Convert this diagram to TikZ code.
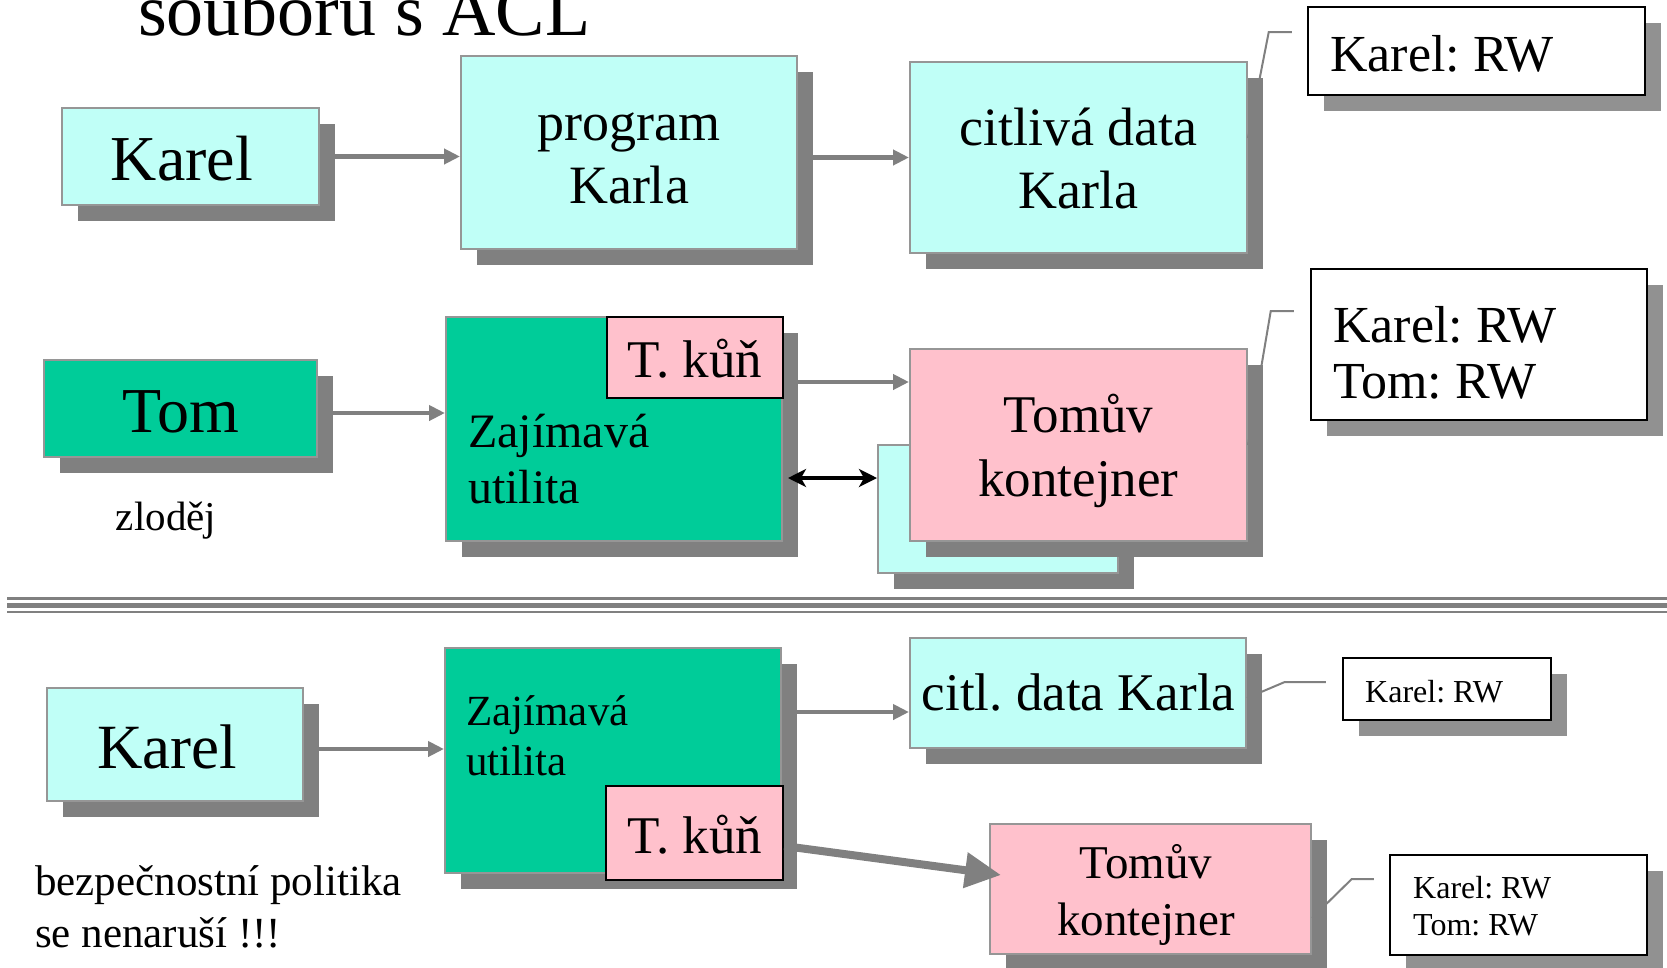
\documentclass[tikz,border=0pt]{standalone}
\usepackage{fontspec}
\setmainfont{Liberation Serif}
\usetikzlibrary{arrows.meta,shadows}
\definecolor{cyanc}{RGB}{192,255,247}
\definecolor{greenc}{RGB}{0,204,153}
\definecolor{pinkc}{RGB}{255,193,204}
\definecolor{shgray}{RGB}{128,128,128}
\definecolor{shlight}{RGB}{145,145,145}
\definecolor{bordg}{RGB}{150,150,150}
\definecolor{arrg}{RGB}{128,128,128}
\newcommand\myfs[2]{\fontsize{#1}{#2}\selectfont}
\frenchspacing
\tikzset{
 shbox/.style={inner sep=0pt, line width=2pt, drop shadow={shadow xshift=16pt, shadow yshift=-16pt, fill=shgray, opacity=1}},
 cyanbox/.style={shbox, fill=cyanc, draw=bordg},
 greenbox/.style={shbox, fill=greenc, draw=bordg},
 pinkbox/.style={shbox, fill=pinkc, draw=bordg},
 horsebox/.style={inner sep=0pt, fill=pinkc, draw=black, line width=2.5pt},
 aclbox/.style={inner sep=0pt, fill=white, draw=black, line width=2.5pt, drop shadow={shadow xshift=16pt, shadow yshift=-16pt, fill=shlight, opacity=1}},
 txt/.style={inner sep=0pt, text=black},
 garrow/.style={draw=arrg, line width=4.5pt, -{Triangle[length=16pt,width=15pt]}},
 barrow/.style={draw=black, line width=4pt, {Stealth[length=18pt,width=18pt,inset=5pt]}-{Stealth[length=18pt,width=18pt,inset=5pt]}},
 thickarrow/.style={draw=arrg, line width=8pt, -{Triangle[length=36pt,width=34pt]}},
 callout/.style={draw=arrg, line width=2pt},
 sepline/.style={draw=shgray},
}
\begin{document}
\frenchspacing
\begin{tikzpicture}[x=1pt,y=-1pt]
\useasboundingbox (0,0) rectangle (1667,967);
\node[txt, anchor=base west, font=\myfs{74}{85}] (title) at (138,35) {souboru s ACL};

% separator
\draw[sepline, line width=3pt] (7,598.5) -- (1667,598.5);
\draw[sepline, line width=5pt] (7,605.5) -- (1667,605.5);
\draw[sepline, line width=2.5pt] (7,612) -- (1667,612);

% row 1
\node[cyanbox, minimum width=257pt, minimum height=97pt] (karel1) at (190.5,156.5) {};
\node[txt, anchor=base, font=\myfs{64}{74}] (karel1t) at (182,180) {Karel};
\node[cyanbox, minimum width=336pt, minimum height=193pt] (prog) at (629,152.5) {};
\node[txt, align=center, font=\myfs{54}{63}] (progt) at (629,158.9) {\strut program\\\strut Karla};
\node[cyanbox, minimum width=337pt, minimum height=191pt] (citl1) at (1078.5,157.5) {};
\node[txt, align=center, font=\myfs{54}{63}] (citl1t) at (1078.5,163.9) {\strut citlivá data\\\strut Karla};
\node[aclbox, minimum width=337pt, minimum height=88pt] (acl1) at (1476.5,51) {};
\node[txt, anchor=base west, font=\myfs{52}{60}] (acl1t) at (1330,71) {Karel: RW};

% row 2
\node[greenbox, minimum width=273pt, minimum height=97pt] (tom) at (180.5,408.5) {};
\node[txt, anchor=base, font=\myfs{64}{74}] (tomt) at (181,432) {Tom};
\node[txt, anchor=base, font=\myfs{41}{48}] (zlodej) at (166,530) {zloděj};
\node[greenbox, minimum width=336pt, minimum height=224pt] (zaj1) at (614,429) {};
\node[txt, anchor=west, align=left, font=\myfs{48}{56}] (zaj1t) at (468,463.8) {\strut Zajímavá\\\strut utilita};
\node[horsebox, minimum width=176pt, minimum height=81pt] (kun1) at (695,357.5) {};
\node[txt, anchor=base, font=\myfs{53}{62}] (kun1t) at (695,377) {T. kůň};
\node[cyanbox, minimum width=240pt, minimum height=128pt] (cyanb) at (998,509) {};
\node[pinkbox, minimum width=337pt, minimum height=192pt] (tom2) at (1078.5,445) {};
\node[txt, align=center, font=\myfs{53}{64}] (tom2t) at (1078.5,451.2) {\strut Tomův\\\strut kontejner};
\node[aclbox, minimum width=336pt, minimum height=151pt] (acl2) at (1479,344.5) {};
\node[txt, anchor=west, align=left, font=\myfs{52}{56}] (acl2t) at (1333,358.8) {\strut Karel: RW\\\strut Tom: RW};

% row 3
\node[cyanbox, minimum width=256pt, minimum height=113pt] (karel3) at (175,744.5) {};
\node[txt, anchor=base, font=\myfs{63}{72}] (karel3t) at (167,768) {Karel};
\node[txt, anchor=west, align=left, font=\myfs{43}{52}] (bez) at (35,910.6) {\strut bezpečnostní politika\\\strut se nenaruší !!!};
\node[greenbox, minimum width=336pt, minimum height=225pt] (zaj3) at (613,760.5) {};
\node[txt, anchor=west, align=left, font=\myfs{43}{50}] (zaj3t) at (466,740) {\strut Zajímavá\\\strut utilita};
\node[horsebox, minimum width=177pt, minimum height=94pt] (kun3) at (694.5,833) {};
\node[txt, anchor=base, font=\myfs{53}{62}] (kun3t) at (695,853) {T. kůň};
\node[cyanbox, minimum width=336pt, minimum height=110pt] (citl3) at (1078,693) {};
\node[txt, anchor=base, font=\myfs{53}{62}] (citl3t) at (1078.5,710) {citl. data Karla};
\node[pinkbox, minimum width=321pt, minimum height=130pt] (tom3) at (1150.5,889) {};
\node[txt, align=center, font=\myfs{47}{57}] (tom3t) at (1146,895.1) {\strut Tomův\\\strut kontejner};
\node[aclbox, minimum width=208pt, minimum height=62pt] (acl3) at (1447,689) {};
\node[txt, anchor=base west, font=\myfs{32}{37}] (acl3t) at (1365,702) {Karel: RW};
\node[aclbox, minimum width=257pt, minimum height=100pt] (acl4) at (1518.5,905) {};
\node[txt, anchor=west, align=left, font=\myfs{32}{37}] (acl4t) at (1413,909.1) {\strut Karel: RW\\\strut Tom: RW};

% arrows
\draw[garrow] (karel1.east) -- (karel1.east -| prog.west);
\draw[garrow] (prog.east |- citl1.west) -- (citl1.west);
\coordinate (a3s) at ([yshift=-4.5pt]tom.east);
\draw[garrow] (a3s) -- (a3s -| zaj1.west);
\coordinate (a4s) at ([yshift=-24.5pt]kun1.east);
\draw[garrow] (a4s) -- (a4s -| tom2.west);
\coordinate (a5s) at ([shift={(5pt,-49pt)}]zaj1.east);
\draw[barrow] (a5s) -- (a5s -| cyanb.west);
\coordinate (a6s) at ([yshift=-4.5pt]karel3.east);
\draw[garrow] (a6s) -- (a6s -| zaj3.west);
\coordinate (a7s) at ([yshift=48.5pt]zaj3.east);
\draw[garrow] (a7s) -- (a7s -| citl3.west);
\draw[thickarrow] ([yshift=-13pt]kun3.east) -- ([shift={(12pt,14pt)}]tom3.west);

% callouts
\coordinate (c1e) at ([shift={(-15pt,19pt)}]acl1.west);
\coordinate (c1k) at ([xshift=-23pt]c1e);
\draw[callout] ([yshift=19.5pt]citl1.east) -- (c1k) -- (c1e);
\coordinate (c2e) at ([shift={(-16pt,33.5pt)}]acl2.west);
\coordinate (c2k) at ([xshift=-23pt]c2e);
\draw[callout] (tom2.east) -- (c2k) -- (c2e);
\coordinate (c3e) at ([shift={(-16pt,7pt)}]acl3.west);
\coordinate (c3k) at ([xshift=-41pt]c3e);
\draw[callout] ([yshift=-5pt]citl3.east) -- (c3k) -- (c3e);
\coordinate (c4e) at ([shift={(-15pt,26pt)}]acl4.west);
\coordinate (c4k) at ([xshift=-22pt]c4e);
\draw[callout] ([yshift=-29pt]tom3.east) -- (c4k) -- (c4e);
\end{tikzpicture}
\end{document}
